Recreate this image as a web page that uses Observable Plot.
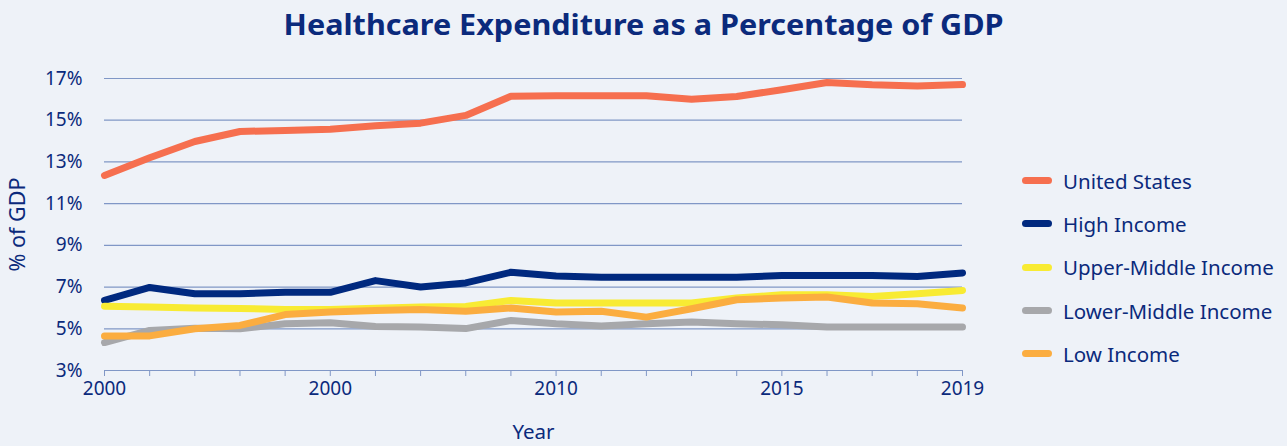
<!DOCTYPE html>
<html>
<head>
<meta charset="utf-8">
<script src="https://cdn.jsdelivr.net/npm/d3@7"></script>
<script src="https://cdn.jsdelivr.net/npm/@observablehq/plot@0.6"></script>
<style>
  html, body { margin: 0; padding: 0; background: #eef2f8; }
  body { width: 1287px; height: 446px; position: relative; overflow: hidden; font-family: "Noto Sans", "Open Sans", sans-serif; color: #0b2a7c; }
  #title { position: absolute; top: 4px; left: 0; width: 1287px; text-align: center; font-size: 29px; font-weight: 700; color: #0b2a7c; white-space: nowrap; }
  #title span { display: inline-block; transform-origin: center; }
  #chart { position: absolute; left: 0; top: 0; }
  #legend { position: absolute; left: 1022px; top: 159px; }
  .item { height: 43.3px; display: flex; align-items: center; font-size: 20.5px; color: #0b2a7c; }
  .sw { width: 30px; height: 7px; border-radius: 4px; margin-right: 11px; }
</style>
</head>
<body>
<div id="title"><span>Healthcare Expenditure as a Percentage of GDP</span></div>
<div id="chart"></div>
<div id="legend"></div>
<script>
const years = d3.range(2000, 2020);
const seriesNames = ["United States", "High Income", "Upper-Middle Income", "Lower-Middle Income", "Low Income"];
const seriesColors = ["#f66f4f", "#00297f", "#f8eb33", "#a7a8ab", "#fbad40"];
const unitedStates = [12.35, 13.2, 13.98, 14.46, 14.51, 14.57, 14.73, 14.86, 15.23, 16.15, 16.17, 16.17, 16.17, 16.0, 16.14, 16.46, 16.81, 16.7, 16.64, 16.71];
const highIncome = [6.36, 6.98, 6.68, 6.68, 6.75, 6.75, 7.31, 7.0, 7.2, 7.71, 7.53, 7.47, 7.47, 7.47, 7.47, 7.55, 7.55, 7.55, 7.51, 7.68];
const upperMiddle = [6.08, 6.04, 6.0, 5.97, 5.93, 5.92, 5.99, 6.04, 6.07, 6.36, 6.24, 6.24, 6.24, 6.24, 6.48, 6.63, 6.63, 6.55, 6.68, 6.84];
const lowerMiddle = [4.34, 4.92, 5.03, 5.0, 5.24, 5.29, 5.11, 5.08, 5.01, 5.4, 5.24, 5.13, 5.24, 5.32, 5.24, 5.19, 5.08, 5.08, 5.08, 5.08];
const lowIncome = [4.66, 4.66, 5.0, 5.16, 5.68, 5.8, 5.88, 5.92, 5.84, 6.0, 5.8, 5.84, 5.56, 5.96, 6.39, 6.48, 6.52, 6.24, 6.2, 6.0];
const yTicks = [3, 5, 7, 9, 11, 13, 15, 17];
const xLabelYears = [2000, 2005, 2010, 2015, 2019];
const xLabelTexts = ["2000", "2000", "2010", "2015", "2019"];

const allSeries = [unitedStates, highIncome, upperMiddle, lowerMiddle, lowIncome];
const rows = [];
allSeries.forEach((vals, i) => vals.forEach((v, j) => rows.push({year: years[j], value: v, series: seriesNames[i]})));

const textColor = "#0b2a7c";
const gridColor = "#8097c6";

const plot = Plot.plot({
  width: 1287,
  height: 446,
  marginLeft: 104,
  marginRight: 325,
  marginTop: 78,
  marginBottom: 76,
  style: {background: "transparent", fontFamily: "'Noto Sans', 'Open Sans', sans-serif", fontSize: "19px", color: textColor},
  x: {domain: [2000, 2019]},
  y: {domain: [3, 17]},
  color: {domain: seriesNames, range: seriesColors},
  marks: [
    Plot.ruleY(yTicks, {stroke: gridColor, strokeWidth: 1.2}),
    Plot.axisX({ticks: years, tickSize: 6, tickFormat: () => "", stroke: gridColor, label: null}),
    Plot.axisX({ticks: xLabelYears, tickSize: 0, tickPadding: 11, tickFormat: (d) => xLabelTexts[xLabelYears.indexOf(d)], fill: textColor, fontSize: 19, label: null}),
    Plot.axisX({ticks: [], label: "Year", labelAnchor: "center", labelArrow: "none", labelOffset: 68, fill: textColor, fontSize: 20.5}),
    Plot.axisY({ticks: yTicks, tickSize: 0, tickPadding: 22, tickFormat: (d) => d + "%", fill: textColor, fontSize: 19, label: null}),
    Plot.axisY({ticks: [], label: "% of GDP", labelAnchor: "center", labelArrow: "none", labelOffset: 95, fill: textColor, fontSize: 21.5}),
    Plot.line(rows, {x: "year", y: "value", z: "series", stroke: "series", strokeWidth: 7, strokeLinecap: "round", strokeLinejoin: "round"})
  ]
});
document.getElementById("chart").appendChild(plot);

const legend = document.getElementById("legend");
seriesNames.forEach((n, i) => {
  const d = document.createElement("div");
  d.className = "item";
  d.innerHTML = `<div class="sw" style="background:${seriesColors[i]}"></div><span>${n}</span>`;
  legend.appendChild(d);
});

const t = document.querySelector("#title span");
const w = t.getBoundingClientRect().width;
t.style.transform = `scaleX(${720 / w})`;
</script>
</body>
</html>
